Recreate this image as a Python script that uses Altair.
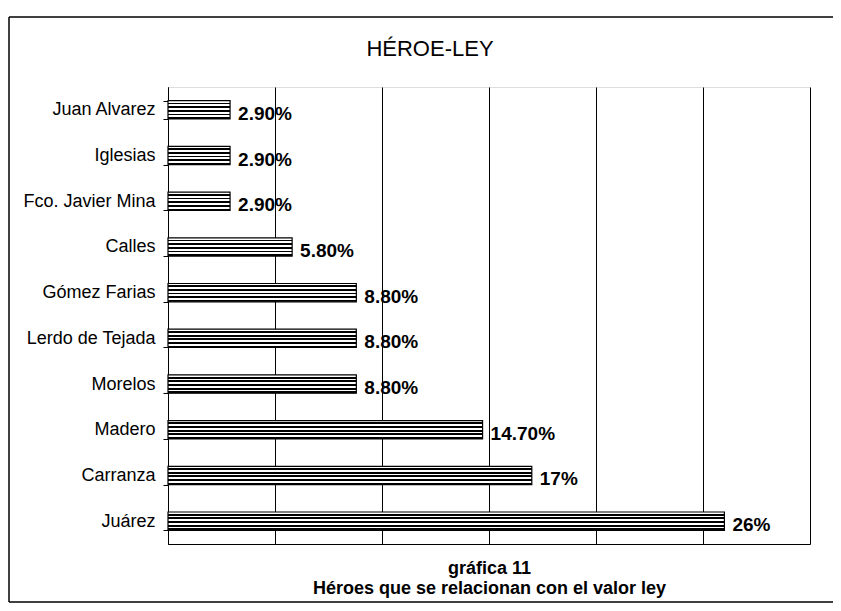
import altair as alt
import pandas as pd

# ---- data ----
heroes = ["Juan Alvarez", "Iglesias", "Fco. Javier Mina", "Calles", "Gómez Farias",
          "Lerdo de Tejada", "Morelos", "Madero", "Carranza", "Juárez"]
values = [2.9, 2.9, 2.9, 5.8, 8.8, 8.8, 8.8, 14.7, 17, 26]
value_labels = ["2.90%", "2.90%", "2.90%", "5.80%", "8.80%", "8.80%", "8.80%",
                "14.70%", "17%", "26%"]
grid_values = [0, 5, 10, 15, 20, 25, 30]
chart_title = "HÉROE-LEY"
x_title = ["gráfica 11", "Héroes que se relacionan con el valor ley"]

df = pd.DataFrame({"heroe": heroes, "valor": values, "etiqueta": value_labels})

FONT = "Liberation Sans"

# horizontal-line hatch as a hard-stop vertical gradient
n_stripes = 5
stops = []
for i in range(n_stripes):
    a = i / n_stripes
    m = (i + 0.5) / n_stripes
    b = (i + 1) / n_stripes
    stops += [alt.GradientStop(offset=a, color="white"), alt.GradientStop(offset=m, color="white"),
              alt.GradientStop(offset=m, color="black"), alt.GradientStop(offset=b, color="black")]
hatch = alt.LinearGradient(gradient="linear", stops=stops, x1=0, x2=0, y1=0, y2=1)

y_enc = alt.Y("heroe:N", sort=heroes,
              scale=alt.Scale(paddingInner=0.6, paddingOuter=0.3),
              axis=alt.Axis(title=None, labelFont=FONT, labelFontSize=18, labelColor="black",
                            tickBand="extent", tickSize=5, tickColor="black",
                            labelPadding=8, domainColor="black", grid=False))
x_enc = alt.X("valor:Q", scale=alt.Scale(domain=[0, 30], nice=False),
              axis=alt.Axis(values=grid_values, labels=False, ticks=False, grid=True,
                            gridColor="black", gridOpacity=1, gridWidth=1,
                            domainColor="black",
                            title=x_title,
                            titleFont=FONT, titleFontSize=18, titleFontWeight="bold",
                            titleColor="black", titlePadding=15, titleLineHeight=20))

bars = alt.Chart(df).mark_bar(fill=hatch, stroke="black", strokeWidth=1.2).encode(
    x=x_enc, y=y_enc)

texts = alt.Chart(df).mark_text(align="left", baseline="middle", dx=8, dy=4,
                                font=FONT, fontSize=19, fontWeight="bold",
                                color="black").encode(
    x="valor:Q", y=alt.Y("heroe:N", sort=heroes), text="etiqueta:N")

title_mark = alt.Chart(alt.Data(values=[{"t": chart_title}])).mark_text(
    font=FONT, fontSize=22, color="black", align="center", baseline="alphabetic").encode(
    x=alt.value(262), y=alt.value(-31), text="t:N")

# outer chart-area frame (top, left, bottom edges; right edge lies off the page)
frame_base = alt.Chart(alt.Data(values=[{}])).mark_rule(color="black", strokeWidth=1.5)
frame_top = frame_base.encode(x=alt.value(-159), x2=alt.value(700), y=alt.value(-70))
frame_left = frame_base.encode(x=alt.value(-159), y=alt.value(-70), y2=alt.value(515))
frame_bottom = frame_base.encode(x=alt.value(-159), x2=alt.value(700), y=alt.value(515))

chart = alt.layer(frame_top, frame_left, frame_bottom, bars, texts, title_mark).properties(
    width=642, height=457,
    autosize=alt.AutoSizeParams(type="none"),
    padding={"left": 160, "top": 79, "right": 23, "bottom": 59},
).configure_view(stroke="black", strokeWidth=1).configure(background="white")

chart.save("out.html", embed_options={"renderer": "svg", "actions": False})
